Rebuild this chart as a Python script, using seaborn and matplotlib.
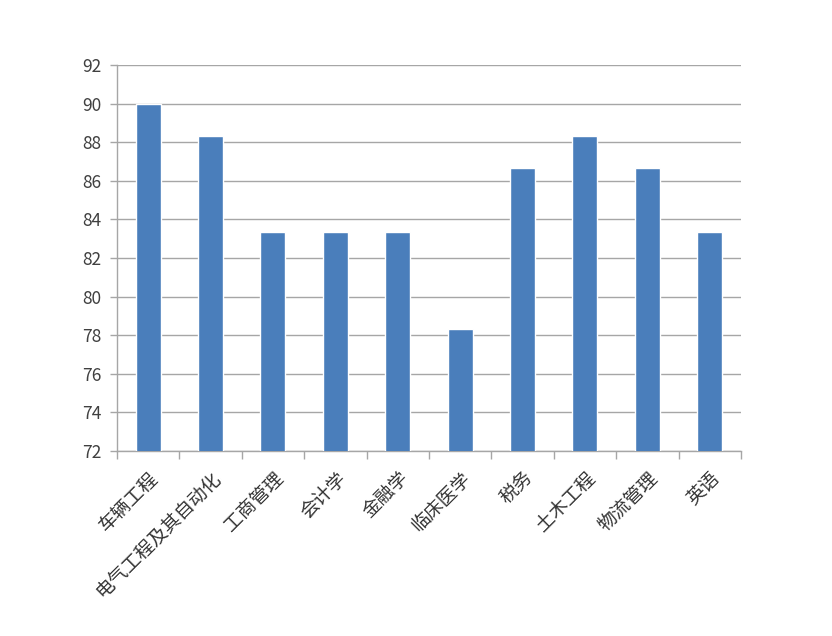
import numpy as np
import pandas as pd
import matplotlib
matplotlib.use("Agg")
import matplotlib.pyplot as plt
import matplotlib.transforms as mtransforms
import seaborn as sns

majors = ["车辆工程", "电气工程及其自动化", "工商管理", "会计学", "金融学",
          "临床医学", "税务", "土木工程", "物流管理", "英语"]
scores = [90.0, 88.33, 83.33, 83.33, 83.33, 78.33, 86.67, 88.33, 86.67, 83.33]
y_ticks = [72, 74, 76, 78, 80, 82, 84, 86, 88, 90, 92]

sns.set_style("white")
plt.rcParams["font.family"] = ["Noto Sans CJK SC", "DejaVu Sans"]

df = pd.DataFrame({"major": majors, "score": scores})

fig = plt.figure(figsize=(8.32, 6.36), dpi=100)
ax = fig.add_axes([0.1406, 0.2909, 0.75, 0.6069])

# bars start at the axis floor (72), like the Excel original
sns.barplot(data=df, x="major", y="score", color="#4A7EBB", saturation=1,
            width=0.4, ax=ax, zorder=3)
ax.set_ylim(72, 92)
ax.set_xlim(-0.5, len(majors) - 0.5)
ax.set_yticks(y_ticks)
ax.yaxis.grid(True, color="#A6A6A6", linewidth=1, zorder=0)
ax.set_xlabel("")
ax.set_ylabel("")

for side in ["top", "right"]:
    ax.spines[side].set_visible(False)
for side in ["left", "bottom"]:
    ax.spines[side].set_color("#A6A6A6")
    ax.spines[side].set_linewidth(1)

ax.tick_params(axis="y", length=5, width=1, color="#A6A6A6", labelsize=12.5,
               labelcolor="#404040", direction="out", left=True, pad=6)
ax.set_xticks(np.arange(len(majors)))
ax.set_xticklabels(majors, rotation=45, ha="right", rotation_mode="anchor",
                   fontsize=13.5, color="#333333")
# nudge the rotated labels a little to the right, as in the original
shift = mtransforms.ScaledTranslation(6 / 100, 0, fig.dpi_scale_trans)
for lab in ax.get_xticklabels():
    lab.set_transform(lab.get_transform() + shift)
ax.tick_params(axis="x", length=0, pad=12)
ax.set_xticks(np.arange(len(majors) + 1) - 0.5, minor=True)
ax.tick_params(axis="x", which="minor", length=6, width=1, color="#A6A6A6",
               direction="out", bottom=True)

fig.savefig("out.png", dpi=100)
